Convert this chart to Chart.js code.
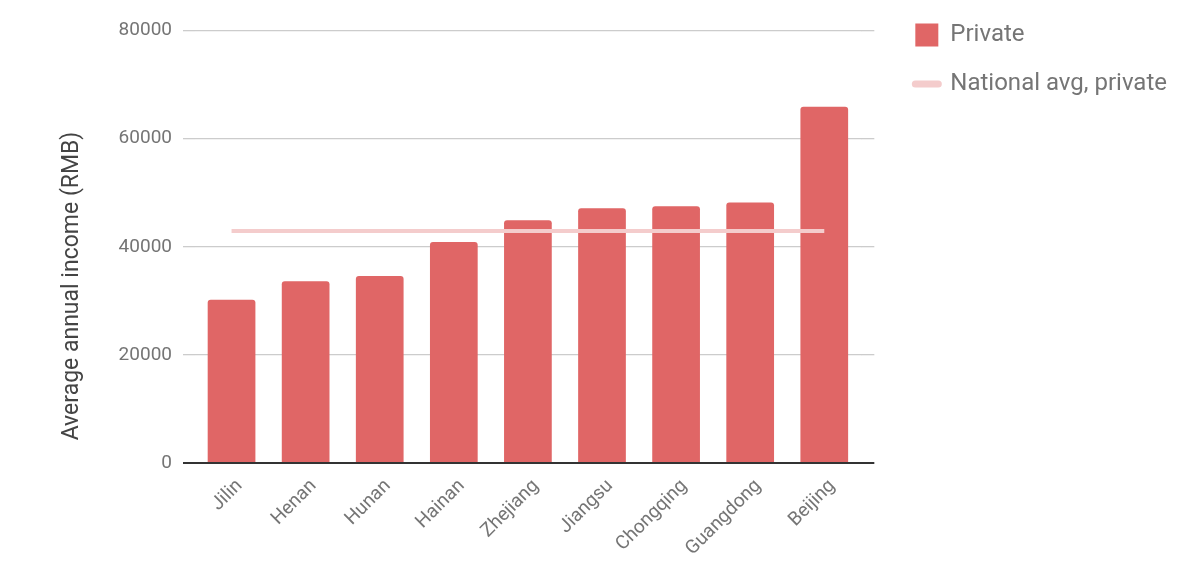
<!DOCTYPE html>
<html>
<head>
<meta charset="utf-8">
<script src="https://cdn.jsdelivr.net/npm/chart.js@4/dist/chart.umd.min.js"></script>
<style>
  html, body { margin:0; padding:0; background:#fff; }
  #wrap { width:1200px; height:564px; }
</style>
</head>
<body>
<div id="wrap"><canvas id="chart" width="1200" height="564"></canvas></div>
<script>
  const provinces = ["Jilin","Henan","Hunan","Hainan","Zhejiang","Jiangsu","Chongqing","Guangdong","Beijing"];
  const privateIncome = [30200, 33600, 34600, 40900, 44900, 47100, 47500, 48200, 65900];
  const nationalAvg = [42900, 42900, 42900, 42900, 42900, 42900, 42900, 42900, 42900];
  const seriesNames = ["Private", "National avg, private"];
  const yTitle = "Average annual income (RMB)";

  const barColor = "#e06666";
  const lineColor = "#f4cccc";
  const gridColor = c => c.tick && c.tick.value === 0 ? "#333333" : "#cccccc";
  const gridWidth = c => c.tick && c.tick.value === 0 ? 2 : 1.3;

  // big negative left padding: only there so the right legend is allowed enough width
  const padLeft = -680;

  Chart.defaults.font.family = "Roboto";
  Chart.defaults.color = "#757575";

  // y title drawn by hand so it sits centred on the canvas like the original
  const yTitlePlugin = {
    id: "yTitle",
    afterDraw(chart){
      const ctx = chart.ctx;
      ctx.save();
      ctx.translate(72, 286);
      ctx.rotate(-Math.PI / 2);
      ctx.font = "23px Roboto";
      ctx.fillStyle = "#444444";
      ctx.textAlign = "center";
      ctx.textBaseline = "middle";
      ctx.fillText(yTitle, 0, 0);
      ctx.restore();
    }
  };

  new Chart(document.getElementById("chart"), {
    data: {
      labels: provinces,
      datasets: [
        { type:"bar", label: seriesNames[0], data: privateIncome, backgroundColor: barColor,
          borderRadius: 3, borderSkipped: "start", barPercentage: 0.644, categoryPercentage: 1, order: 1 },
        { type:"line", label: seriesNames[1], data: nationalAvg, borderColor: lineColor,
          borderWidth: 4, pointRadius: 0, fill: false, order: 0 }
      ]
    },
    options: {
      responsive: false,
      animation: false,
      layout: { padding: { top: -2, right: 23, bottom: 0, left: padLeft } },
      plugins: {
        tooltip: { enabled: false },
        legend: {
          position: "right",
          align: "start",
          labels: {
            usePointStyle: true,
            pointStyleWidth: 23,
            boxWidth: 23,
            boxHeight: 23,
            padding: 25,
            color: "#757575",
            font: { size: 24 },
            generateLabels(chart){
              const ds = chart.data.datasets;
              return [
                { text: ds[0].label, fillStyle: barColor, strokeStyle: barColor, lineWidth: 0,
                  pointStyle: "rect", datasetIndex: 0, hidden: false, fontColor: "#757575" },
                { text: ds[1].label, fillStyle: lineColor, strokeStyle: lineColor, lineWidth: 7,
                  lineCap: "round", pointStyle: "line", datasetIndex: 1, hidden: false, fontColor: "#757575" }
              ];
            }
          }
        }
      },
      scales: {
        x: {
          grid: { display: false },
          border: { display: false },
          ticks: { minRotation: 45, maxRotation: 45, padding: 4, labelOffset: 8,
                   font: { size: 19 }, color: "#757575" },
          afterFit(s){ s.height = 101; }
        },
        xTop: {
          type: "category",
          position: "top",
          grid: { display: false },
          border: { display: false },
          ticks: { display: false },
          afterFit(s){ s.height = 32.5; }
        },
        y: {
          min: 0, max: 80000,
          ticks: { stepSize: 20000, padding: 11, font: { size: 19 }, color: "#757575",
                   callback: v => String(v) },
          grid: { color: gridColor, lineWidth: gridWidth, tickLength: 11.5 },
          border: { display: false },
          afterFit(s){ s.width = 194.5 - padLeft; }
        },
        yRight: {
          type: "linear",
          position: "right",
          min: 0, max: 80000,
          ticks: { stepSize: 20000, display: false },
          grid: { color: gridColor, lineWidth: gridWidth, tickLength: 13, drawOnChartArea: false },
          border: { display: false },
          afterFit(s){ s.width = 29; }
        }
      }
    },
    plugins: [yTitlePlugin]
  });
</script>
</body>
</html>
